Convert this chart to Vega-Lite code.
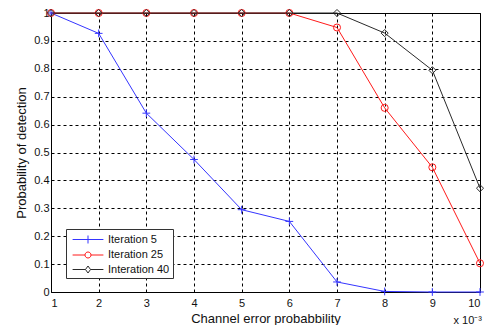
{
  "$schema": "https://vega.github.io/schema/vega-lite/v6.json",
  "autosize": {"type": "none"},
  "padding": {"left": 51, "top": 13, "right": 4, "bottom": 33},
  "width": 429,
  "height": 279,
  "background": "white",
  "config": {
    "view": {"stroke": "#000000", "strokeWidth": 1},
    "font": "Liberation Sans",
    "axis": {
      "labelFont": "Liberation Sans",
      "titleFont": "Liberation Sans",
      "labelFontSize": 11,
      "titleFontSize": 13,
      "titleFontWeight": "normal",
      "labelColor": "#111111",
      "titleColor": "#111111",
      "grid": true,
      "gridColor": "#000000",
      "gridDash": [3, 3],
      "gridOpacity": 1,
      "gridWidth": 1,
      "domain": false,
      "ticks": false
    }
  },
  "data": {
    "values": [
      {"x": 1, "y": 1.0, "series": "Iteration 5"},
      {"x": 2, "y": 0.927, "series": "Iteration 5"},
      {"x": 3, "y": 0.641, "series": "Iteration 5"},
      {"x": 4, "y": 0.475, "series": "Iteration 5"},
      {"x": 5, "y": 0.295, "series": "Iteration 5"},
      {"x": 6, "y": 0.253, "series": "Iteration 5"},
      {"x": 7, "y": 0.036, "series": "Iteration 5"},
      {"x": 8, "y": 0.002, "series": "Iteration 5"},
      {"x": 9, "y": 0.0, "series": "Iteration 5"},
      {"x": 10, "y": 0.0, "series": "Iteration 5"},
      {"x": 1, "y": 1.0, "series": "Iteration 25"},
      {"x": 2, "y": 1.0, "series": "Iteration 25"},
      {"x": 3, "y": 1.0, "series": "Iteration 25"},
      {"x": 4, "y": 1.0, "series": "Iteration 25"},
      {"x": 5, "y": 1.0, "series": "Iteration 25"},
      {"x": 6, "y": 1.0, "series": "Iteration 25"},
      {"x": 7, "y": 0.948, "series": "Iteration 25"},
      {"x": 8, "y": 0.66, "series": "Iteration 25"},
      {"x": 9, "y": 0.447, "series": "Iteration 25"},
      {"x": 10, "y": 0.103, "series": "Iteration 25"},
      {"x": 1, "y": 1.0, "series": "Interation 40"},
      {"x": 2, "y": 1.0, "series": "Interation 40"},
      {"x": 3, "y": 1.0, "series": "Interation 40"},
      {"x": 4, "y": 1.0, "series": "Interation 40"},
      {"x": 5, "y": 1.0, "series": "Interation 40"},
      {"x": 6, "y": 1.0, "series": "Interation 40"},
      {"x": 7, "y": 1.0, "series": "Interation 40"},
      {"x": 8, "y": 0.928, "series": "Interation 40"},
      {"x": 9, "y": 0.795, "series": "Interation 40"},
      {"x": 10, "y": 0.372, "series": "Interation 40"}
    ]
  },
  "encoding": {
    "x": {
      "field": "x", "type": "quantitative",
      "scale": {"domain": [1, 10], "nice": false, "zero": false},
      "axis": {"values": [1,2,3,4,5,6,7,8,9,10], "title": "Channel error probabbility", "labelPadding": 5, "titlePadding": 4}
    },
    "y": {
      "field": "y", "type": "quantitative",
      "scale": {"domain": [0, 1], "nice": false},
      "axis": {"values": [0,0.1,0.2,0.3,0.4,0.5,0.6,0.7,0.8,0.9,1], "format": "~g", "title": "Probability of detection", "labelPadding": 2, "titlePadding": 5}
    },
    "color": {
      "field": "series", "type": "nominal",
      "scale": {"domain": ["Iteration 5", "Iteration 25", "Interation 40"], "range": ["#3535ff", "#ff1a1a", "#2a2a2a"]},
      "legend": {
        "title": null,
        "orient": "none",
        "legendX": 15,
        "legendY": 216,
        "strokeColor": "#333333",
        "fillColor": "white",
        "padding": 3,
        "labelFontSize": 11,
        "labelFont": "Liberation Sans",
        "labelColor": "#111111",
        "symbolSize": 196,
        "symbolStrokeWidth": 1,
        "rowPadding": 1.5,
        "labelOffset": 12.5,
        "symbolOffset": 11.5,
        "encode": {
          "symbols": {
            "update": {
              "shape": {"signal": "datum.value === 'Iteration 5' ? 'M-2.2,0L2.2,0M0,-0.57L0,0.57' : datum.value === 'Iteration 25' ? 'M-2.2,0L-0.43,0M0.43,0L2.2,0M-0.43,0A0.43,0.43 0 1 0 0.43,0A0.43,0.43 0 1 0 -0.43,0' : 'M-2.2,0L-0.36,0M0.36,0L2.2,0M-0.36,0L0,-0.5L0.36,0L0,0.5Z'"},
              "fill": {"value": "transparent"},
              "opacity": {"value": 1},
              "strokeWidth": {"value": 1}
            }
          }
        }
      }
    }
  },
  "layer": [
    {
      "mark": {"type": "line", "strokeWidth": 1, "clip": false}
    },
    {
      "transform": [{"filter": "datum.series === 'Iteration 5'"}],
      "mark": {"type": "point", "filled": false, "strokeWidth": 1, "size": 60, "opacity": 1, "clip": false, "shape": "M-1,0L1,0M0,-1L0,1"}
    },
    {
      "transform": [{"filter": "datum.series === 'Iteration 25'"}],
      "mark": {"type": "point", "filled": false, "strokeWidth": 1, "size": 50, "opacity": 1, "clip": false, "shape": "circle"}
    },
    {
      "transform": [{"filter": "datum.series === 'Interation 40'"}],
      "mark": {"type": "point", "filled": false, "strokeWidth": 1, "size": 50, "opacity": 1, "clip": false, "shape": "diamond"}
    },
    {
      "data": {"values": [{"x": 10, "y": 0, "t": "x 10⁻³"}]},
      "mark": {"type": "text", "align": "right", "baseline": "top", "dy": 23, "dx": 2, "fontSize": 11, "font": "Liberation Sans", "color": "#111111"},
      "encoding": {"text": {"field": "t"}, "color": {"value": "#111111"}}
    }
  ]
}
